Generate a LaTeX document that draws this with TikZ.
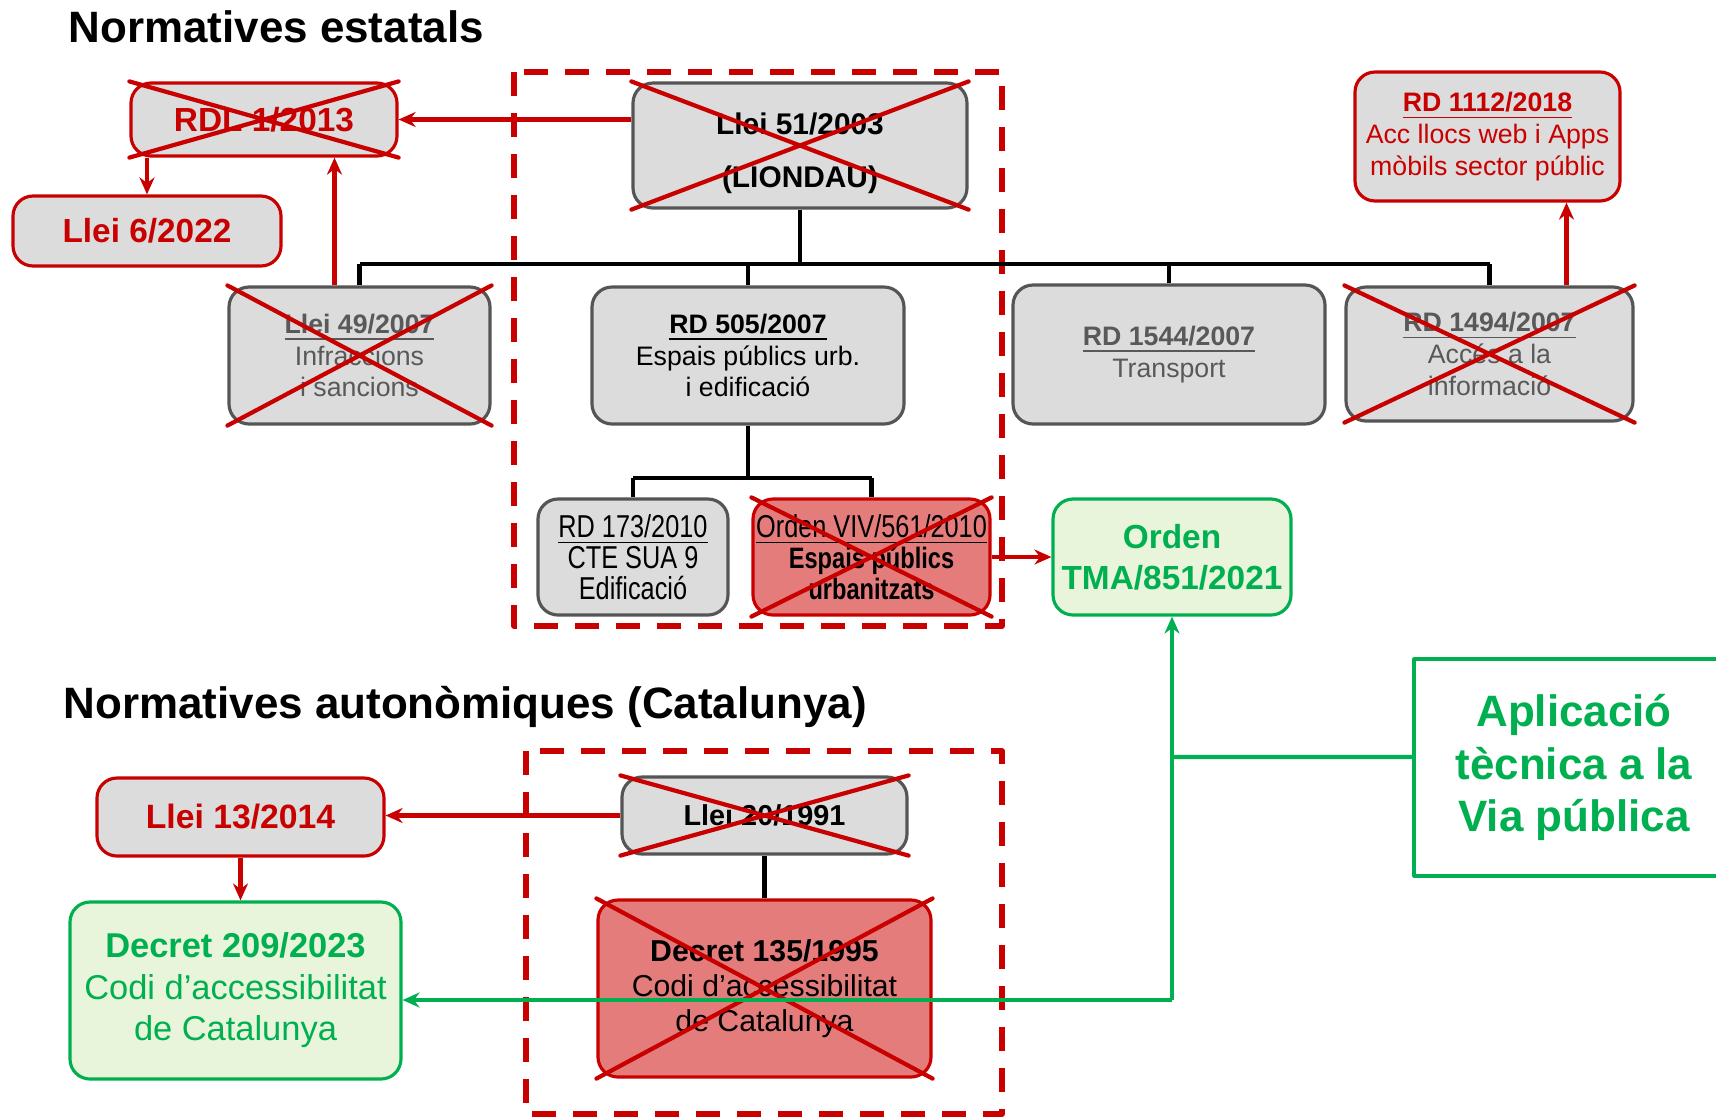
\documentclass[tikz,border=0pt]{standalone}
\usepackage{fontspec}
\setmainfont{Liberation Sans}
\newfontfamily\narrowfont[FakeStretch=0.8]{Liberation Sans}
\usetikzlibrary{arrows.meta}

\definecolor{lawred}{RGB}{200,0,0}
\definecolor{lawpink}{RGB}{229,124,124}
\definecolor{lawgreen}{RGB}{0,176,80}
\definecolor{greenfill}{RGB}{233,245,219}
\definecolor{boxfill}{RGB}{220,220,220}
\definecolor{boxgray}{RGB}{85,85,85}
\definecolor{textgray}{RGB}{89,89,89}

\begin{document}
\begin{tikzpicture}[x=0.1mm, y=-0.1mm, line join=round,
    >={Stealth[length=1.7mm, width=1.5mm]},
    lawbox/.style={rounded corners=2mm, line width=0.9pt, align=center, inner sep=0pt},
    graybox/.style={lawbox, draw=boxgray, fill=boxfill, text=black},
    redbox/.style={lawbox, draw=lawred, fill=boxfill, text=lawred},
    redfill/.style={lawbox, draw=lawred, fill=lawpink, text=black},
    greenbox/.style={lawbox, draw=lawgreen, fill=greenfill, text=lawgreen},
    heading/.style={anchor=west, inner sep=0pt, font=\bfseries\fontsize{12.5}{15}\selectfont},
    small/.style={font=\fontsize{7.6}{9}\selectfont},
    narrow/.style={font=\narrowfont\fontsize{9}{8.8}\selectfont},
    xline/.style={draw=lawred, line width=1.2pt, line cap=round},
    redarrow/.style={->, draw=lawred, line width=1.2pt},
    greenarrow/.style={->, draw=lawgreen, line width=1.2pt},
    tree/.style={draw=black, line width=1.2pt},
    dashbox/.style={draw=lawred, line width=1.6pt, line cap=butt, dash pattern=on 2.4mm off 1.7mm}]
    \useasboundingbox (0,0) rectangle (1716,1118);

    % frames
    \draw[dashbox] (514,72) rectangle (1002,626);
    \draw[dashbox] (526,751) rectangle (1002,1114);

    \node[heading] (tstate) at (68,27) {Normatives estatals};
    \node[heading] (tcat) at (63,707) {Normatives autonòmiques (Catalunya)};

    % state laws
    \node[redbox, minimum width=26.6mm, minimum height=7.3mm, font=\bfseries\fontsize{9.5}{11}\selectfont] (rdl) at (264,119.5) {RDL 1/2013};
    \node[redbox, minimum width=26.8mm, minimum height=7.0mm, font=\bfseries\fontsize{9.5}{11}\selectfont] (llei6) at (147,231) {Llei 6/2022};
    \node[graybox, minimum width=33.4mm, minimum height=12.5mm, font=\bfseries\fontsize{8.5}{15}\selectfont] (llei51) at (800,145.5) {\strut Llei 51/2003\\(LIONDAU)};

    \node[graybox, small, text=textgray, minimum width=26.1mm, minimum height=13.7mm] (llei49) at (359.5,355.5) {\underline{\textbf{Llei 49/2007}}\\Infraccions\\i sancions};
    \node[graybox, small, minimum width=31.2mm, minimum height=13.7mm] (rd505) at (748,355.5) {\underline{\textbf{RD 505/2007}}\\Espais públics urb.\\i edificació};
    \node[graybox, small, text=textgray, minimum width=31.2mm, minimum height=13.9mm] (rd1544) at (1169,354.5) {\underline{\textbf{RD 1544/2007}}\\Transport};
    \node[graybox, small, text=textgray, minimum width=28.7mm, minimum height=13.4mm] (rd1494) at (1489.5,354) {\underline{\textbf{RD 1494/2007}}\\Accés a la\\informació};
    \node[redbox, small, minimum width=26.5mm, minimum height=12.9mm] (rd1112) at (1487.5,136.5) {\underline{\textbf{RD 1112/2018}}\\Acc llocs web i Apps\\mòbils sector públic};

    \node[graybox, narrow, minimum width=19mm, minimum height=11.6mm] (rd173) at (633,557) {\underline{RD 173/2010}\\CTE SUA 9\\Edificació};
    \node[redfill, narrow, minimum width=23.7mm, minimum height=11.6mm] (viv) at (871.5,557) {\underline{Orden VIV/561/2010}\\{\fontsize{8.4}{8.8}\selectfont\textbf{Espais públics}}\\{\fontsize{8.4}{8.8}\selectfont\textbf{urbanitzats}}};
    \node[greenbox, minimum width=23.8mm, minimum height=11.6mm, font=\bfseries\fontsize{9.5}{11.7}\selectfont] (tma) at (1172,557) {Orden\\TMA/851/2021};

    % Catalan laws
    \node[graybox, minimum width=28.5mm, minimum height=7.7mm, font=\bfseries\fontsize{8.2}{10}\selectfont] (llei20) at (764.5,815.5) {Llei 20/1991};
    \node[redbox, minimum width=28.7mm, minimum height=7.8mm, font=\bfseries\fontsize{9.6}{11}\selectfont] (llei13) at (240.5,817) {Llei 13/2014};
    \node[greenbox, minimum width=33.1mm, minimum height=17.7mm, font=\fontsize{9.8}{11.8}\selectfont] (dec209) at (235.5,990.5) {\textbf{Decret 209/2023}\\Codi d’accessibilitat\\de Catalunya};
    \node[redfill, minimum width=33.3mm, minimum height=17.7mm, font=\fontsize{8.6}{10}\selectfont] (dec135) at (764.5,988.5) {\textbf{Decret 135/1995}\\Codi d’accessibilitat\\de Catalunya};

    \node[draw=lawgreen, fill=white, line width=0.9pt, align=center, inner sep=0pt, text=lawgreen,
          minimum width=32mm, minimum height=21.7mm, font=\bfseries\fontsize{12.5}{15}\selectfont] (aplic) at (1574,767.5) {Aplicació\\tècnica a la\\Via pública};

    % repealed
    \foreach \n in {rdl,llei51,llei49,rd1494,viv,llei20,dec135}
        \draw[xline] (\n.north west) -- (\n.south east) (\n.south west) -- (\n.north east);

    % hierarchy
    \coordinate (bus) at (0,264);
    \coordinate (subbus) at (0,478);
    \draw[tree] (llei51.south) -- (llei51.south |- bus);
    \draw[tree] (llei49.north |- bus) -- (rd1494.north |- bus);
    \foreach \n in {llei49,rd505,rd1544,rd1494}
        \draw[tree] (\n.north |- bus) -- (\n.north);
    \draw[tree] (rd505.south) -- (rd505.south |- subbus);
    \draw[tree] (rd173.north |- subbus) -- (viv.north |- subbus);
    \draw[tree] (rd173.north |- subbus) -- (rd173.north);
    \draw[tree] (viv.north |- subbus) -- (viv.north);
    \draw[tree] (llei20.south) -- (dec135.north);

    % replacements
    \draw[redarrow] (llei51.west |- rdl.east) -- (rdl.east);
    \draw[redarrow] (rdl.south -| llei6.north) -- (llei6.north);
    \draw[redarrow] ([xshift=-2.5mm]llei49.north) -- ([xshift=-2.5mm]llei49.north |- rdl.south);
    \draw[redarrow] ([xshift=7.7mm]rd1494.north) -- ([xshift=7.7mm]rd1494.north |- rd1112.south);
    \draw[redarrow] (viv.east) -- (tma.west);
    \draw[redarrow] (llei20.west) -- (llei20.west -| llei13.east);
    \draw[redarrow] (llei13.south) -- (llei13.south |- dec209.north);

    % technical application
    \coordinate (gjoin) at (1172,757);
    \coordinate (gcorner) at (1172,1000);
    \draw[draw=lawgreen, line width=1.2pt] ([yshift=1.05mm]aplic.west) -- (gjoin);
    \draw[greenarrow] (gcorner) -- (tma.south);
    \draw[greenarrow] (gcorner) -- (gcorner -| dec209.east);
\end{tikzpicture}
\end{document}
